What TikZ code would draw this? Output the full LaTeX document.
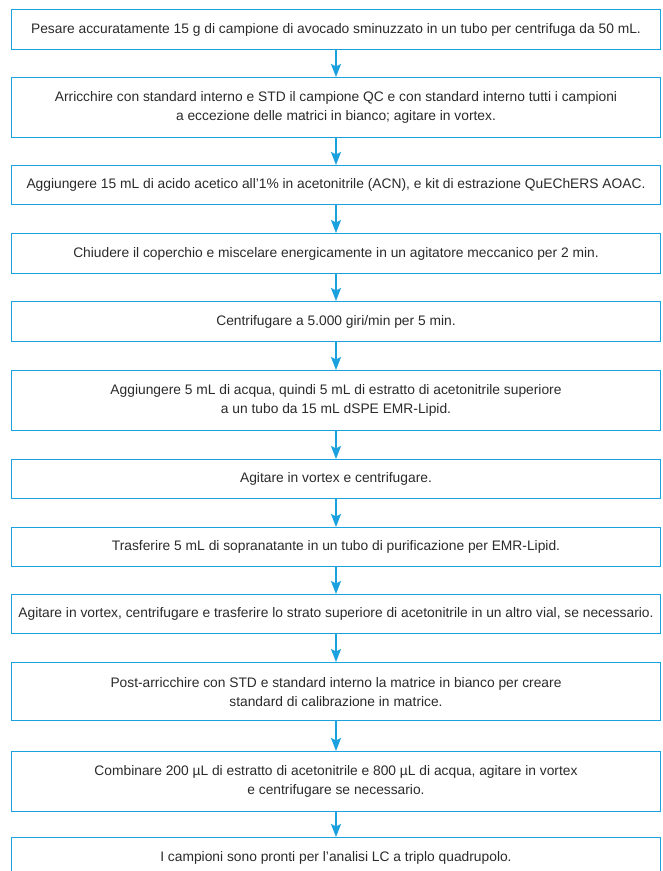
\documentclass[tikz,border=0pt]{standalone}
\usepackage{fontspec}
\setmainfont{Liberation Sans}
\usetikzlibrary{arrows.meta}
\definecolor{boxblue}{HTML}{1BA1DD}
\definecolor{txt}{HTML}{2A2A2A}
\tikzset{
  stepbox/.style={draw=boxblue, line width=1.4pt, rectangle, minimum width=649pt,
    anchor=north, align=center, text=txt, font=\fontsize{13.8}{19}\selectfont, inner sep=0pt},
  flow/.style={draw=boxblue, line width=1.2pt, -{Stealth[length=13pt,width=10pt,inset=2.5pt]}}
}
\begin{document}
\begin{tikzpicture}[x=1pt,y=1pt]
\path[use as bounding box, clip] (0,0) rectangle (662,-871);
\node[stepbox, minimum height=40pt] (b1) at (336,-9) {Pesare accuratamente 15 g di campione di avocado sminuzzato in un tubo per centrifuga da 50 mL.};
\node[stepbox, minimum height=60pt] (b2) at (336,-77) {Arricchire con standard interno e STD il campione QC e con standard interno tutti i campioni\\a eccezione delle matrici in bianco; agitare in vortex.};
\node[stepbox, minimum height=39pt] (b3) at (336,-165) {Aggiungere 15 mL di acido acetico all'1\% in acetonitrile (ACN), e kit di estrazione QuEChERS AOAC.};
\node[stepbox, minimum height=40pt] (b4) at (336,-233) {Chiudere il coperchio e miscelare energicamente in un agitatore meccanico per 2 min.};
\node[stepbox, minimum height=40pt] (b5) at (336,-301) {Centrifugare a 5.000 giri/min per 5 min.};
\node[stepbox, minimum height=60pt] (b6) at (336,-370) {Aggiungere 5 mL di acqua, quindi 5 mL di estratto di acetonitrile superiore\\a un tubo da 15 mL dSPE EMR-Lipid.};
\node[stepbox, minimum height=39pt] (b7) at (336,-459) {Agitare in vortex e centrifugare.};
\node[stepbox, minimum height=39pt] (b8) at (336,-527) {Trasferire 5 mL di sopranatante in un tubo di purificazione per EMR-Lipid.};
\node[stepbox, minimum height=39pt] (b9) at (336,-594) {Agitare in vortex, centrifugare e trasferire lo strato superiore di acetonitrile in un altro vial, se necessario.};
\node[stepbox, minimum height=58pt] (b10) at (336,-662) {Post-arricchire con STD e standard interno la matrice in bianco per creare\\standard di calibrazione in matrice.};
\node[stepbox, minimum height=60pt] (b11) at (336,-751) {Combinare 200 µL di estratto di acetonitrile e 800 µL di acqua, agitare in vortex\\e centrifugare se necessario.};
\node[stepbox, minimum height=40pt] (b12) at (336,-837) {I campioni sono pronti per l'analisi LC a triplo quadrupolo.};
\foreach \a/\b in {b1/b2,b2/b3,b3/b4,b4/b5,b5/b6,b6/b7,b7/b8,b8/b9,b9/b10,b10/b11,b11/b12}
  \draw[flow] (\a.south) -- (\b.north);
\end{tikzpicture}
\end{document}
